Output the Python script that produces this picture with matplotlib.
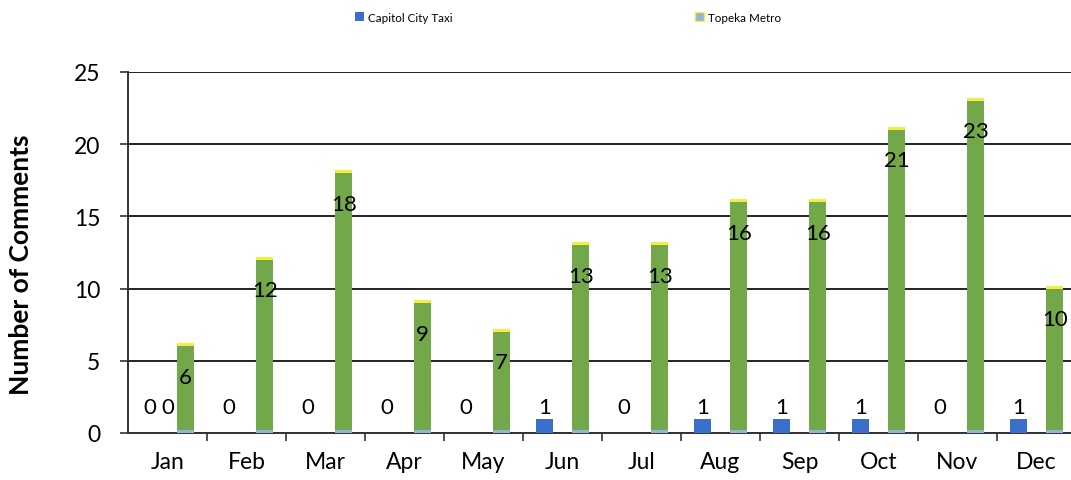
import numpy as np
import matplotlib
matplotlib.use("Agg")
import matplotlib.pyplot as plt
from matplotlib.patches import Patch

plt.rcParams['font.family'] = ['Lato', 'DejaVu Sans']

months = ['Jan', 'Feb', 'Mar', 'Apr', 'May', 'Jun',
          'Jul', 'Aug', 'Sep', 'Oct', 'Nov', 'Dec']
taxi = [0, 0, 0, 0, 0, 1, 0, 1, 1, 1, 0, 1]
metro = [6, 12, 18, 9, 7, 13, 13, 16, 16, 21, 23, 10]
# extra zero label shown only for January in the original
extra = [0, None, None, None, None, None, None, None, None, None, None, None]

c_taxi = '#3b6fc9'
c_green = '#72a84a'
c_yellow = '#f4ef3c'
c_base = '#8db6e2'

fig = plt.figure(figsize=(10.71, 4.81), dpi=100)
ax = fig.add_axes([128 / 1071, 47 / 481, 948 / 1071, 361 / 481])

x = np.arange(len(months))
w = 0.22
off = 0.23

ax.bar(x - off, taxi, w, color=c_taxi, zorder=3)
ax.bar(x + off, metro, w, color=c_green, zorder=3)
ax.bar(x + off, [0.2] * len(metro), w, bottom=metro, color=c_yellow, zorder=3)
ax.bar(x + off, [0.2] * len(metro), w, color=c_base, zorder=4)

for i in range(len(months)):
    ax.annotate(str(taxi[i]), (x[i] - off, max(taxi[i], 1)), xytext=(0, 1),
                textcoords='offset points', ha='center', va='bottom', fontsize=16, zorder=5)
    ax.annotate(str(metro[i]), (x[i] + off, metro[i]), xytext=(0, -22),
                textcoords='offset points', ha='center', va='center', fontsize=16, zorder=5)
    if extra[i] is not None:
        ax.annotate(str(extra[i]), (x[i], 1), xytext=(0, 1),
                    textcoords='offset points', ha='center', va='bottom', fontsize=16, zorder=5)

ax.set_xlim(-0.5, len(months) - 0.5)
ax.set_ylim(0, 25)
ax.set_yticks(np.arange(0, 26, 5))
ax.set_xticks(x)
ax.set_xticklabels(months)
ax.set_xticks(np.arange(0.5, len(months) - 0.5, 1), minor=True)
ax.tick_params(axis='x', which='major', length=0, labelsize=16.5, pad=13)
ax.tick_params(axis='x', which='minor', length=6, width=1.2, color='#333333', direction='out')
ax.tick_params(axis='y', length=6, width=1.2, color='#333333', labelsize=16.5, pad=14)

ax.yaxis.grid(True, color='#222222', linewidth=1.4, zorder=0)
ax.set_axisbelow(True)
for s in ['top', 'right']:
    ax.spines[s].set_visible(False)
ax.spines['left'].set_color('#333333')
ax.spines['left'].set_linewidth(1.4)
ax.spines['bottom'].set_color('#333333')
ax.spines['bottom'].set_linewidth(1.4)

ax.set_ylabel('Number of Comments', fontsize=19, fontweight='bold')
ax.yaxis.set_label_coords(-0.1, 0.468)

handles = [Patch(facecolor=c_taxi), Patch(facecolor=c_base, edgecolor=c_yellow)]
fig.legend(handles, ['Capitol City Taxi', 'Topeka Metro'], loc='center',
           bbox_to_anchor=(568 / 1071, 1 - 18 / 481), ncol=2, frameon=False,
           fontsize=8.4, handlelength=0.8, handleheight=0.8, handletextpad=0.3,
           columnspacing=20.8)

fig.savefig('out.png', dpi=100)
